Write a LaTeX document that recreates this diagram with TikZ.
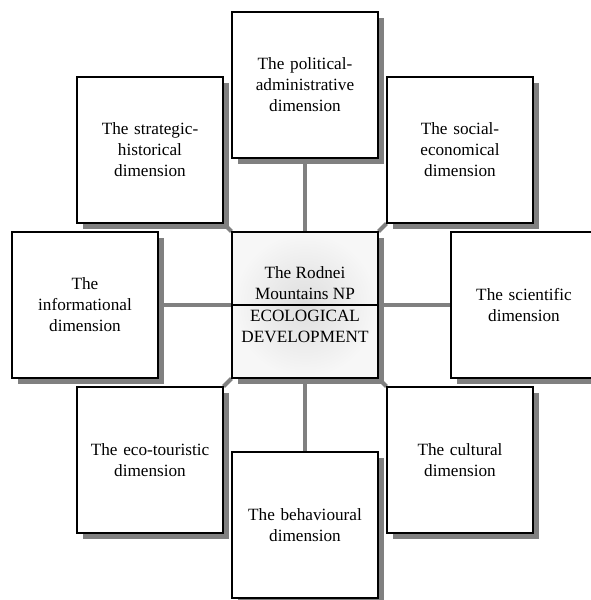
\documentclass[tikz,border=0pt]{standalone}
\usepackage{fontspec}
\setmainfont{Liberation Serif}
\usetikzlibrary{shadows,backgrounds,positioning}

\tikzset{
  dimbox/.style={draw=black, line width=1.2pt, fill=white,
    minimum size=146pt, text width=136pt, align=center, inner sep=0pt,
    drop shadow={shadow xshift=6pt, shadow yshift=-6pt, fill=black!50, opacity=1}},
  link/.style={draw=black!50, line width=4pt},
}

\begin{document}
\begin{tikzpicture}[
  x=1pt, y=-1pt,
  font=\fontsize{17.2}{21}\selectfont,
]
\useasboundingbox (0,0) rectangle (591,600);

% centre
\node[dimbox, shade, inner color=black!13, outer color=black!3] (ctr) at (305,305) {};
\draw[line width=1.5pt] (ctr.west) -- (ctr.east);
\node[anchor=south, inner sep=5pt, align=center] (ctrtop) at (ctr.center) {The Rodnei\\Mountains NP};
\node[anchor=north, inner sep=5pt, align=center] (ctrbot) at (ctr.center) {ECOLOGICAL\\DEVELOPMENT};

% dimensions
\node[dimbox] (pol) at (305,85) {The political-\\administrative\\dimension};
\node[dimbox] (soc) at (460,150) {The social-\\economical\\dimension};
\node[dimbox] (sci) at (524,305) {The scientific\\dimension};
\node[dimbox] (cul) at (460,460) {The cultural\\dimension};
\node[dimbox] (beh) at (305,525) {The behavioural\\dimension};
\node[dimbox] (eco) at (150,460) {The eco-touristic\\dimension};
\node[dimbox] (inf) at (85,305) {The\\informational\\dimension};
\node[dimbox] (str) at (150,150) {The strategic-\\historical\\dimension};

\begin{scope}[on background layer]
\foreach \a/\b in {north/pol.south, east/sci.west, south/beh.north, west/inf.east,
  north east/soc.south west, south east/cul.north west,
  south west/eco.north east, north west/str.south east} {
  \draw[link] (ctr.\a) -- (\b);
}
\end{scope}

\end{tikzpicture}
\end{document}
